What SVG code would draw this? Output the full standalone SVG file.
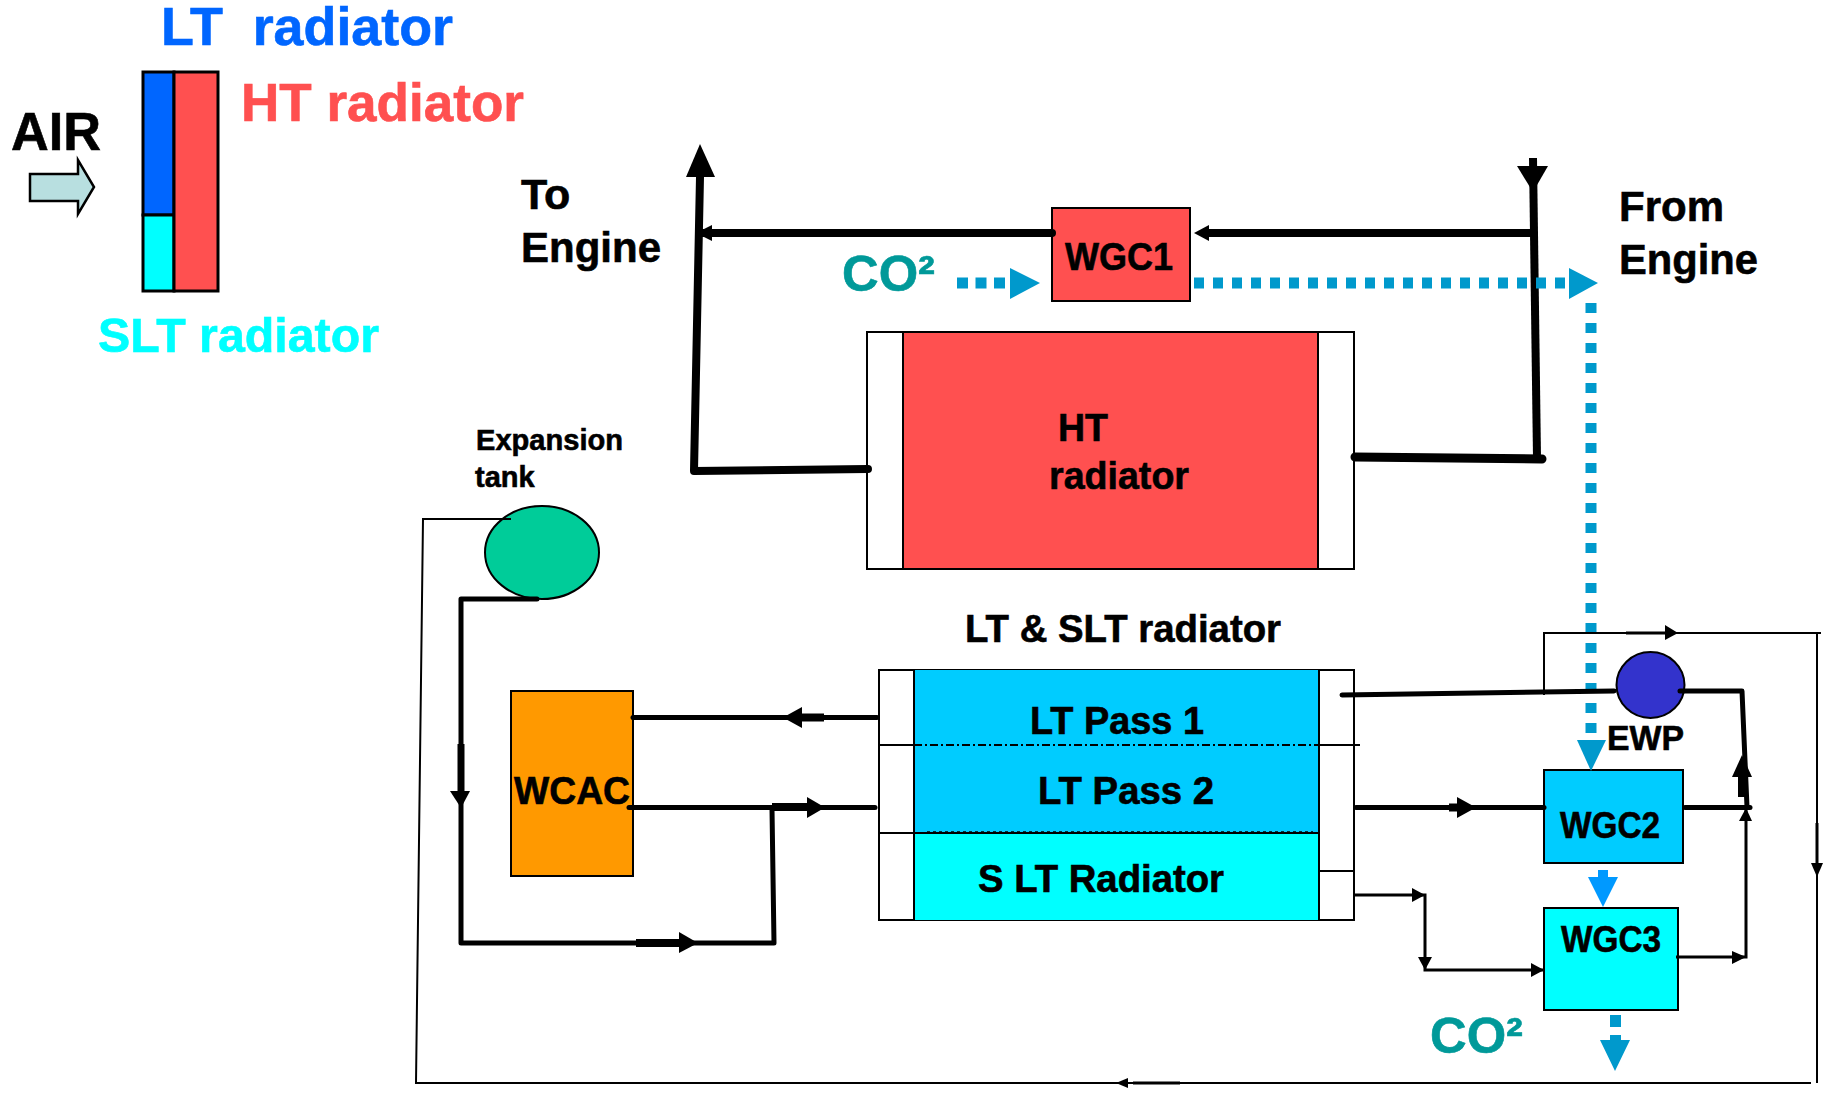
<svg xmlns="http://www.w3.org/2000/svg" width="1823" height="1095" viewBox="0 0 1823 1095">
<style>
text{font-family:"Liberation Sans",Arial,sans-serif;font-weight:bold;fill:#000;stroke:#000;stroke-width:.6}
.box{stroke:#000;stroke-width:2}
.thin{fill:none;stroke:#000;stroke-width:2}
.mid{fill:none;stroke:#000;stroke-width:3}
.pipe{fill:none;stroke:#000;stroke-width:5;stroke-linecap:round;stroke-linejoin:round}
.heavy{fill:none;stroke:#000;stroke-width:8;stroke-linecap:round;stroke-linejoin:round}
.butt{stroke-linecap:butt}
.co{fill:none;stroke:#0099CC;stroke-width:11}
.hd{fill:#000}
.chd{fill:#0099CC}
.lab38{font-size:38px}
text.co2{font-size:50px;fill:#009999;stroke:#009999}
</style>
<rect width="1823" height="1095" fill="#fff"/>

<g id="legend">
<rect x="143" y="72" width="31" height="143" fill="#0066FF" stroke="#000" stroke-width="3"/>
<rect x="143" y="215" width="31" height="76" fill="#00FFFF" stroke="#000" stroke-width="3"/>
<rect x="174" y="72" width="44" height="219" fill="#FF5050" stroke="#000" stroke-width="3"/>
<path d="M30 174H78V160L94 187L78 214V201H30Z" fill="#B8DFE0" stroke="#000" stroke-width="2.5"/>
<text x="11" y="150" font-size="54" textLength="90" lengthAdjust="spacingAndGlyphs">AIR</text>
<text x="161" y="45" font-size="53" style="fill:#0066FF;stroke:#0066FF;white-space:pre" xml:space="preserve" textLength="292" lengthAdjust="spacingAndGlyphs">LT  radiator</text>
<text x="241" y="121" font-size="53" style="fill:#FF5050;stroke:#FF5050" textLength="283" lengthAdjust="spacingAndGlyphs">HT radiator</text>
<text x="98" y="352" font-size="49" style="fill:#00FFFF;stroke:#00FFFF" textLength="281" lengthAdjust="spacingAndGlyphs">SLT radiator</text>
</g>

<g id="to-engine">
<text x="521" y="209" font-size="43">To</text>
<text x="521" y="262" font-size="43" textLength="140" lengthAdjust="spacingAndGlyphs">Engine</text>
</g>
<g id="from-engine">
<text x="1619" y="221" font-size="43" textLength="105" lengthAdjust="spacingAndGlyphs">From</text>
<text x="1619" y="274" font-size="43" textLength="139" lengthAdjust="spacingAndGlyphs">Engine</text>
</g>

<g id="ht-radiator">
<rect class="box" x="867" y="332" width="487" height="237" fill="#fff"/>
<rect class="box" x="903" y="332" width="415" height="237" fill="#FF5050"/>
<text x="1058" y="441" class="lab38" textLength="50" lengthAdjust="spacingAndGlyphs">HT</text>
<text x="1049" y="489" class="lab38" textLength="140" lengthAdjust="spacingAndGlyphs">radiator</text>
</g>

<g id="wgc1">
<rect class="box" x="1052" y="208" width="138" height="93" fill="#FF5050"/>
<text x="1065" y="270" class="lab38" textLength="108" lengthAdjust="spacingAndGlyphs">WGC1</text>
</g>

<g id="expansion-tank">
<ellipse cx="542" cy="552.500" rx="57" ry="46.500" fill="#00CC99" stroke="#000" stroke-width="2"/>
<text x="476" y="450" font-size="29" textLength="147" lengthAdjust="spacingAndGlyphs">Expansion</text>
<text x="475" y="487" font-size="29">tank</text>
</g>

<g id="wcac">
<rect class="box" x="511" y="691" width="122" height="185" fill="#FF9900"/>
<text x="514" y="804" class="lab38" textLength="116" lengthAdjust="spacingAndGlyphs">WCAC</text>
</g>

<g id="lt-slt-radiator">
<rect class="box" x="879" y="670" width="475" height="250" fill="#fff"/>
<rect x="914" y="670" width="405" height="163" fill="#00CCFF"/>
<rect x="914" y="833" width="405" height="87" fill="#00FFFF"/>
<path class="box" fill="none" d="M914 670V920M1319 670V920M879 745H914M1319 745H1360M879 833H1319M1319 871H1354"/>
<path d="M914 745H1319" fill="none" stroke="#000" stroke-width="2" stroke-dasharray="8 3 2 3"/>
<path d="M927 832H1313" fill="none" stroke="#000" stroke-width="1.500" stroke-dasharray="3 3"/>
<text x="965" y="642" class="lab38" textLength="316" lengthAdjust="spacingAndGlyphs">LT &amp; SLT radiator</text>
<text x="1030" y="734" class="lab38" textLength="174" lengthAdjust="spacingAndGlyphs">LT Pass 1</text>
<text x="1038" y="804" class="lab38" textLength="176" lengthAdjust="spacingAndGlyphs">LT Pass 2</text>
<text x="978" y="892" class="lab38" textLength="246" lengthAdjust="spacingAndGlyphs">S LT Radiator</text>
</g>

<g id="ewp">
<ellipse cx="1650.500" cy="685" rx="34" ry="33" fill="#3333CC" stroke="#000" stroke-width="2"/>
<text x="1607" y="750" font-size="35" textLength="77" lengthAdjust="spacingAndGlyphs">EWP</text>
</g>

<g id="wgc2">
<rect class="box" x="1544" y="770" width="139" height="93" fill="#00CCFF"/>
<text x="1560" y="838" font-size="37" textLength="100" lengthAdjust="spacingAndGlyphs">WGC2</text>
</g>

<g id="wgc3">
<rect class="box" x="1544" y="908" width="134" height="102" fill="#00FFFF"/>
<text x="1561" y="952" font-size="37" textLength="100" lengthAdjust="spacingAndGlyphs">WGC3</text>
</g>

<g id="co2-labels">
<text x="842" y="291" class="co2" textLength="93" lengthAdjust="spacingAndGlyphs">CO²</text>
<text x="1430" y="1053" class="co2" textLength="93" lengthAdjust="spacingAndGlyphs">CO²</text>
</g>

<g id="connectors">
<!-- HT loop -->
<path class="heavy" d="M1052 233H700"/>
<polygon class="hd" points="696,233 712,225 712,241"/>
<path class="heavy" d="M868 469L694 471L700 177"/>
<polygon class="hd" points="700,144 686,177 715,177"/>
<path class="heavy" d="M1532 233H1205"/>
<polygon class="hd" points="1194,233 1209,225 1209,241"/>
<path class="heavy butt" d="M1533 158L1537 458"/>
<polygon class="hd" points="1533,192 1517,166 1548,166"/>
<path class="heavy" style="stroke-width:9" d="M1355 457L1542 459"/>

<!-- CO2 flow -->
<path class="co" d="M957 283H1006" stroke-dasharray="11 7.500"/>
<polygon class="chd" points="1010,268 1040,283 1010,299"/>
<path class="co" d="M1194 283H1568" stroke-dasharray="10 9"/>
<polygon class="chd" points="1569,268 1598,283 1569,299"/>
<path class="co" d="M1591 303V740" stroke-dasharray="10 10"/>
<polygon class="chd" points="1577,740 1606,740 1591,771"/>
<path fill="#0099FF" d="M1598 870H1608V877H1618L1603 907L1588 877H1598Z"/>
<path class="co" d="M1615.500 1015V1027"/>
<path class="chd" d="M1610 1035H1621V1040H1630L1615 1071L1600 1040H1610Z"/>

<!-- LT circuit -->
<path class="pipe" d="M537 599H461V943H774L772 809"/>
<path class="pipe butt" style="stroke-width:7" d="M461 744V791"/>
<polygon class="hd" points="450,791 470,791 461,808"/>
<path class="heavy butt" d="M636 943H679"/>
<polygon class="hd" points="679,932 698,943 679,953"/>
<path class="pipe" d="M633 717.500H877"/>
<path class="heavy butt" d="M802 717.500H824"/>
<polygon class="hd" points="783,717.500 802,707 802,728"/>
<path class="pipe" d="M629 807.500H875"/>
<path class="heavy butt" d="M772 807H807"/>
<polygon class="hd" points="807,797 825,807.500 807,818"/>
<path class="pipe" d="M1342 695L1614 691"/>
<path class="pipe" d="M1680 691H1742L1747 807"/>
<path class="heavy butt" d="M1742 777V797"/>
<polygon class="hd" points="1742,755 1732,777 1752,777"/>
<path class="pipe" d="M1356 807.500H1544"/>
<path class="heavy butt" d="M1449 807.500H1457"/>
<polygon class="hd" points="1457,797 1476,807.500 1457,818"/>
<path class="pipe" d="M1685 807.500H1750"/>

<!-- SLT circuit -->
<path class="mid" d="M1354 895H1425V970H1544"/>
<polygon class="hd" points="1412,888 1425,895 1412,902"/>
<polygon class="hd" points="1418,957 1432,957 1425,970"/>
<polygon class="hd" points="1531,963 1544,970 1531,977"/>
<path class="mid" d="M1676 957H1746V808"/>
<polygon class="hd" points="1732,951 1746,957 1732,964"/>
<polygon class="hd" points="1746,808 1739,821 1752,821"/>

<!-- Expansion return -->
<path class="thin" d="M511 519H423L416 1083H1811"/>
<path class="thin" d="M1544 695V633H1821M1817 633V1083"/>
<path class="mid" d="M1626 633H1665"/>
<polygon class="hd" points="1665,625 1678,633 1665,640"/>
<path class="mid" d="M1817 823V863"/>
<polygon class="hd" points="1811,863 1823,863 1817,877"/>
<path class="mid" d="M1133 1083H1180"/>
<polygon class="hd" points="1116,1083 1128,1078 1128,1088"/>
</g>
</svg>
